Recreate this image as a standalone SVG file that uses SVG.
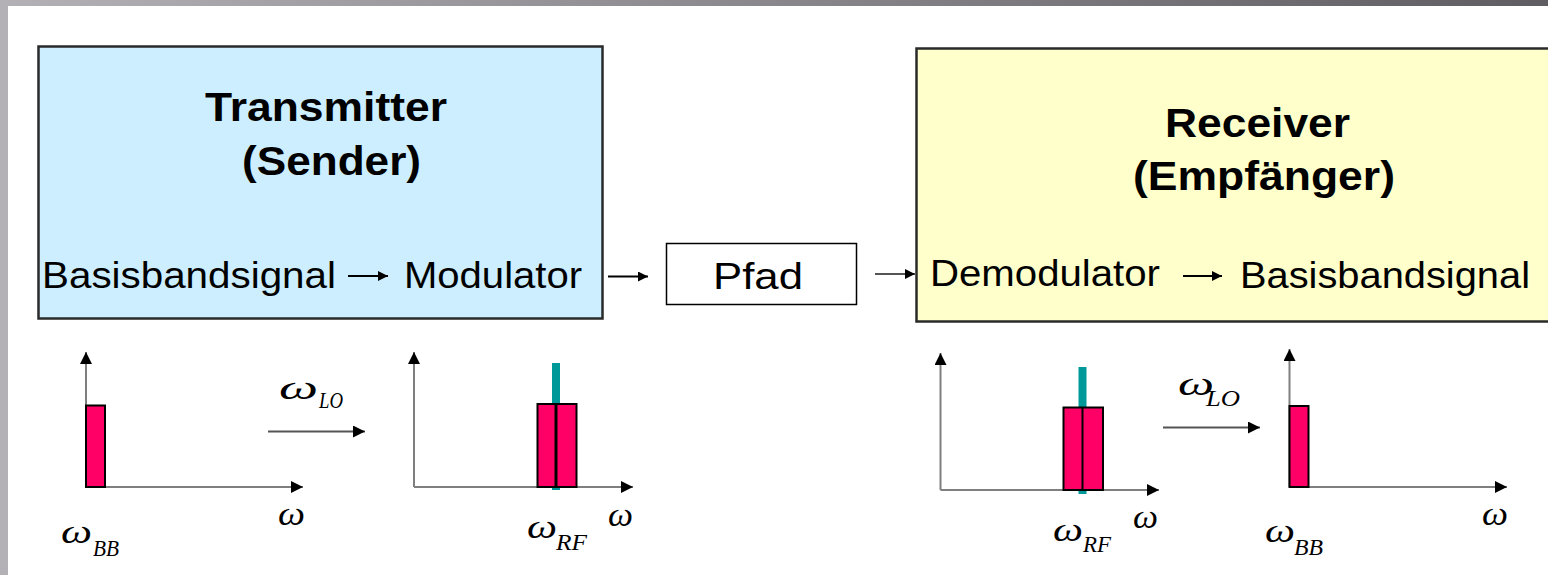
<svg xmlns="http://www.w3.org/2000/svg" width="1548" height="575" viewBox="0 0 1548 575">
<style>
.box{stroke:#2a2a2a;stroke-width:2.5}
.t{font-family:"Liberation Sans",Arial,sans-serif;font-size:36px;fill:#000}
.tb{font-family:"Liberation Sans",Arial,sans-serif;font-size:40px;font-weight:bold;fill:#000}
.w{font-family:"Liberation Serif","Times New Roman",serif;font-style:italic;font-size:34px;fill:#000}
.s{font-family:"Liberation Serif","Times New Roman",serif;font-style:italic;font-size:23px;fill:#000}
.ax{stroke:#7f7f7f;stroke-width:2;fill:none}
.ar{stroke:#000;stroke-width:2;fill:none}
.arg{stroke:#555;stroke-width:1.8;fill:none}
.bar{fill:#ff0066;stroke:#000;stroke-width:2}
.lo{stroke:#009999;stroke-width:8}
</style>
<defs>
<linearGradient id="topg" x1="0" y1="0" x2="1" y2="0">
<stop offset="0" stop-color="#b3b1b6"/>
<stop offset="1" stop-color="#5f5d62"/>
</linearGradient>
<marker id="ah" viewBox="0 0 10 10" refX="10" refY="5" markerWidth="13" markerHeight="12" markerUnits="userSpaceOnUse" orient="auto">
<path d="M0,0 L10,5 L0,10 z" fill="#000"/>
</marker>
<marker id="ahs" viewBox="0 0 10 10" refX="10" refY="5" markerWidth="11" markerHeight="10" markerUnits="userSpaceOnUse" orient="auto">
<path d="M0,0 L10,5 L0,10 z" fill="#000"/>
</marker>
</defs>
<rect x="0" y="0" width="1548" height="575" fill="#fff"/>
<rect x="0" y="0" width="1548" height="6" fill="url(#topg)"/>
<rect x="0" y="0" width="8" height="575" fill="#b3b1b6"/>

<g id="transmitter">
<rect class="box" x="38.5" y="46.5" width="564" height="272" fill="#cceeff"/>
<text class="tb" x="205" y="121" textLength="242" lengthAdjust="spacingAndGlyphs">Transmitter</text>
<text class="tb" x="242" y="175" textLength="179" lengthAdjust="spacingAndGlyphs">(Sender)</text>
<text class="t" x="42" y="288" textLength="294" lengthAdjust="spacingAndGlyphs">Basisbandsignal</text>
<text class="t" x="404" y="288" textLength="178" lengthAdjust="spacingAndGlyphs">Modulator</text>
</g>

<g id="pfad">
<rect x="666.5" y="243.5" width="190" height="61" fill="#fff" stroke="#000" stroke-width="1.5"/>
<text class="t" x="713" y="289" textLength="90" lengthAdjust="spacingAndGlyphs">Pfad</text>
</g>

<g id="receiver">
<rect class="box" x="916.5" y="48.5" width="640" height="273" fill="#ffffcc"/>
<text class="tb" x="1165" y="137" textLength="185" lengthAdjust="spacingAndGlyphs">Receiver</text>
<text class="tb" x="1133" y="190" textLength="262" lengthAdjust="spacingAndGlyphs">(Empfänger)</text>
<text class="t" x="930" y="286" textLength="230" lengthAdjust="spacingAndGlyphs">Demodulator</text>
<text class="t" x="1240" y="288" textLength="290" lengthAdjust="spacingAndGlyphs">Basisbandsignal</text>
</g>

<g id="spectrum-bb-tx">
<line class="ax" x1="86" y1="487" x2="86" y2="352" marker-end="url(#ah)"/>
<line class="ax" x1="86" y1="487" x2="303" y2="487" marker-end="url(#ah)"/>
<rect class="bar" x="86" y="405.5" width="19" height="81.5"/>
<text class="w" x="278" y="525" textLength="27" lengthAdjust="spacingAndGlyphs">ω</text>
<text class="w" x="61" y="543" textLength="31" lengthAdjust="spacingAndGlyphs">ω</text>
<text class="s" x="93" y="556" textLength="26" lengthAdjust="spacingAndGlyphs">BB</text>
</g>

<g id="spectrum-rf-tx">
<line class="ax" x1="414" y1="487" x2="414" y2="352" marker-end="url(#ah)"/>
<line class="ax" x1="414" y1="487" x2="633" y2="487" marker-end="url(#ah)"/>
<line class="lo" x1="556" y1="363" x2="556" y2="490"/>
<rect class="bar" x="537.5" y="404" width="39" height="83"/>
<line x1="556" y1="404" x2="556" y2="487" stroke="#000" stroke-width="3"/>
<text class="w" x="608" y="526" textLength="25" lengthAdjust="spacingAndGlyphs">ω</text>
<text class="w" x="527" y="538" textLength="30" lengthAdjust="spacingAndGlyphs">ω</text>
<text class="s" x="556" y="550" textLength="31" lengthAdjust="spacingAndGlyphs">RF</text>
</g>

<g id="spectrum-rf-rx">
<line class="ax" x1="940.5" y1="490" x2="940.5" y2="353" marker-end="url(#ah)"/>
<line class="ax" x1="940.5" y1="490" x2="1159" y2="490" marker-end="url(#ah)"/>
<line class="lo" x1="1082.5" y1="367" x2="1082.5" y2="494"/>
<rect class="bar" x="1063.5" y="407.5" width="39.5" height="82.5"/>
<line x1="1082.5" y1="407.5" x2="1082.5" y2="490" stroke="#000" stroke-width="2"/>
<text class="w" x="1133" y="528" textLength="25" lengthAdjust="spacingAndGlyphs">ω</text>
<text class="w" x="1053" y="541" textLength="30" lengthAdjust="spacingAndGlyphs">ω</text>
<text class="s" x="1083" y="552" textLength="28" lengthAdjust="spacingAndGlyphs">RF</text>
</g>

<g id="spectrum-bb-rx">
<line class="ax" x1="1289.5" y1="487" x2="1289.5" y2="349" marker-end="url(#ah)"/>
<line class="ax" x1="1289.5" y1="487" x2="1507" y2="487" marker-end="url(#ah)"/>
<rect class="bar" x="1289.5" y="406" width="19" height="81"/>
<text class="w" x="1482" y="525" textLength="26" lengthAdjust="spacingAndGlyphs">ω</text>
<text class="w" x="1265" y="542" textLength="30" lengthAdjust="spacingAndGlyphs">ω</text>
<text class="s" x="1294" y="555" textLength="29" lengthAdjust="spacingAndGlyphs">BB</text>
</g>

<g id="connectors">
<line class="ar" x1="348" y1="276" x2="388" y2="276" marker-end="url(#ahs)"/>
<line class="ar" x1="608" y1="276.5" x2="648" y2="276.5" marker-end="url(#ahs)"/>
<line class="arg" x1="875" y1="274" x2="915" y2="274" marker-end="url(#ahs)"/>
<line class="ar" x1="1183" y1="276" x2="1222" y2="276" marker-end="url(#ahs)"/>
<line class="arg" x1="268" y1="431.5" x2="365" y2="431.5" marker-end="url(#ah)"/>
<text class="w" x="279" y="399" textLength="39" lengthAdjust="spacingAndGlyphs">ω</text>
<text class="s" x="319" y="408" textLength="24" lengthAdjust="spacingAndGlyphs">LO</text>
<line class="arg" x1="1163" y1="427.5" x2="1260" y2="427.5" marker-end="url(#ah)"/>
<text class="w" x="1178" y="395" textLength="36" lengthAdjust="spacingAndGlyphs">ω</text>
<text class="s" x="1206" y="406" textLength="34" lengthAdjust="spacingAndGlyphs">LO</text>
</g>
</svg>
